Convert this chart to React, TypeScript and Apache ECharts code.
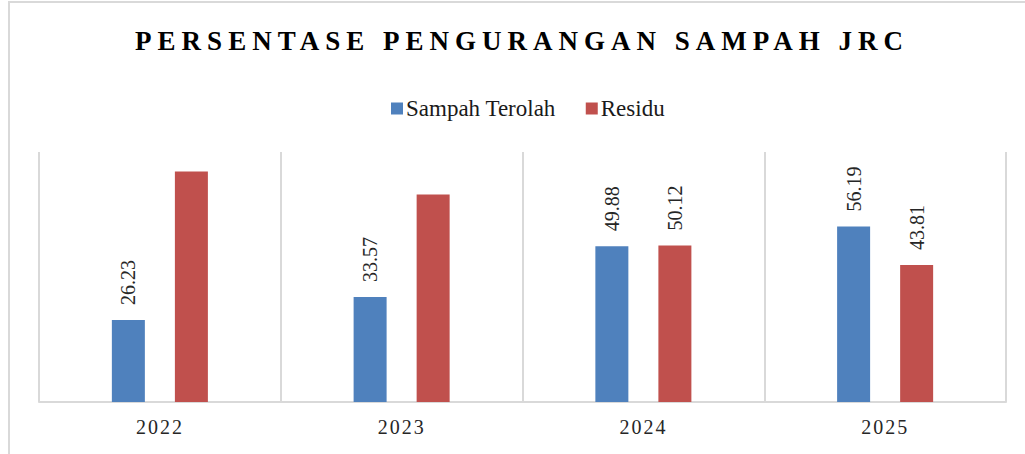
import React, { useEffect, useRef } from "react";
import * as echarts from "echarts";

const TITLE = "PERSENTASE PENGURANGAN SAMPAH JRC";
const categories = ["2022", "2023", "2024", "2025"];
const seriesNames = ["Sampah Terolah", "Residu"];
const sampahTerolah = [26.23, 33.57, 49.88, 56.19];
const residu = [73.77, 66.43, 50.12, 43.81];
const residuLabelShown = [false, false, true, true];

const SERIF = "Liberation Serif";

export default function App() {
  const ref = useRef<HTMLDivElement>(null);
  useEffect(() => {
    if (!ref.current) return;
    const chart = echarts.init(ref.current, null, { renderer: "svg" });
    const labelBase = {
      show: true,
      position: "top",
      rotate: 90,
      align: "left",
      verticalAlign: "middle",
      distance: 15,
      fontFamily: SERIF,
      fontSize: 20,
      color: "#262626",
      formatter: (p: any) => p.value.toFixed(2),
    };
    chart.setOption({
      animation: false,
      backgroundColor: "#ffffff",
      textStyle: { fontFamily: SERIF },
      graphic: [
        {
          type: "rect",
          shape: { x: 9, y: 2, width: 1200, height: 600 },
          style: { fill: "none", stroke: "#d9d9d9", lineWidth: 2 },
          silent: true,
          z: -10,
        },
        {
          type: "text",
          x: 522,
          y: 41,
          style: {
            text: TITLE,
            fontFamily: SERIF,
            fontWeight: "bold",
            fontSize: 27,
            fill: "#000000",
            textAlign: "center",
            textVerticalAlign: "middle",
          },
        },
      ],
      legend: {
        data: seriesNames,
        left: 386,
        top: 92,
        itemWidth: 12,
        itemHeight: 12,
        itemGap: 30,
        icon: "rect",
        textStyle: { fontFamily: SERIF, fontSize: 23, color: "#1a1a1a", padding: [0, 0, 0, -2] },
      },
      grid: { left: 39, right: 19, top: 152, bottom: 52, containLabel: false },
      xAxis: {
        type: "category",
        data: categories,
        axisLine: { show: true, lineStyle: { color: "#d9d9d9", width: 2 } },
        axisTick: { show: false },
        splitLine: { show: true, lineStyle: { color: "#d9d9d9", width: 2 } },
        axisLabel: { fontFamily: SERIF, fontSize: 20, color: "#262626", margin: 15 },
      },
      yAxis: {
        type: "value",
        min: 0,
        max: 80,
        show: false,
        splitLine: { show: false },
      },
      series: [
        {
          name: seriesNames[0],
          type: "bar",
          data: sampahTerolah,
          barWidth: 33,
          barGap: "91%",
          itemStyle: { color: "#4f81bd" },
          label: labelBase,
        },
        {
          name: seriesNames[1],
          type: "bar",
          data: residu.map((v, i) => ({ value: v, label: { show: residuLabelShown[i] } })),
          barWidth: 33,
          itemStyle: { color: "#c0504d" },
          label: labelBase,
        },
      ],
    });
    const svg = ref.current.querySelector("svg");
    if (svg) {
      svg.querySelectorAll("text").forEach((t) => {
        const s = t.textContent || "";
        if (s === TITLE) t.setAttribute("letter-spacing", "6");
        else if (categories.includes(s)) t.setAttribute("letter-spacing", "2");
      });
    }
    return () => chart.dispose();
  }, []);
  return (
    <div
      ref={ref}
      style={{ position: "fixed", left: 0, top: 0, width: 1025, height: 454, background: "#fff" }}
    />
  );
}
